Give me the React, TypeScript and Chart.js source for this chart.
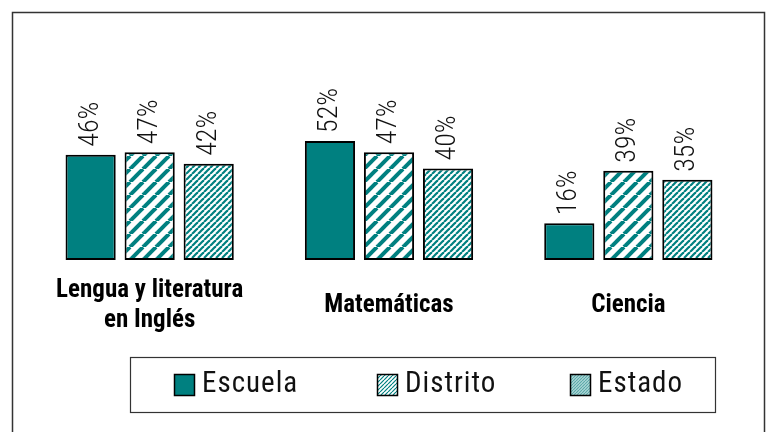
import React, { useEffect, useRef } from "react";
import { Chart, registerables } from "chart.js";

Chart.register(...registerables);

const categories: (string | string[])[] = [["Lengua y literatura", "en Inglés"], "Matemáticas", "Ciencia"];
const seriesNames = ["Escuela", "Distrito", "Estado"];
const escuela = [46, 52, 16];
const distrito = [47, 47, 39];
const estado = [42, 40, 35];

const TEAL = "#008080";
const NARROW = "'Roboto Condensed', 'Open Sans Condensed', 'Liberation Sans', Arial, sans-serif";

function stripePattern(period: number, lineW: number, bg: string, fg: string): CanvasPattern | string {
  const c = document.createElement("canvas");
  c.width = period;
  c.height = period;
  const g = c.getContext("2d");
  if (!g) return fg;
  g.fillStyle = bg;
  g.fillRect(0, 0, period, period);
  g.strokeStyle = fg;
  g.lineWidth = lineW;
  for (let k = -1; k <= 1; k++) {
    g.beginPath();
    g.moveTo(k * period, period);
    g.lineTo(k * period + period, 0);
    g.stroke();
  }
  const p = g.createPattern(c, "repeat");
  return p || fg;
}

export default function App() {
  const ref = useRef<HTMLCanvasElement | null>(null);

  useEffect(() => {
    const canvas = ref.current;
    if (!canvas) return;

    const distritoFill = stripePattern(13, 4, "#ffffff", TEAL);
    const estadoFill = stripePattern(6, 2.2, "#ffffff", TEAL);
    const distritoLegend = stripePattern(4, 1.2, "#ffffff", TEAL);
    const estadoLegend = stripePattern(3, 1.2, "#b8dcdc", "#5aa9a9");
    const legendFills = [TEAL, distritoLegend, estadoLegend];

    const framePlugin = {
      id: "frameAndLabels",
      beforeDraw(chart: any) {
        const ctx = chart.ctx;
        ctx.save();
        ctx.fillStyle = "#ffffff";
        ctx.fillRect(0, 0, chart.width, chart.height);
        ctx.restore();
      },
      afterDatasetsDraw(chart: any) {
        const ctx = chart.ctx;
        ctx.save();
        ctx.font = `300 28px ${NARROW}`;
        ctx.fillStyle = "#111";
        ctx.textAlign = "left";
        ctx.textBaseline = "middle";
        chart.data.datasets.forEach((ds: any, di: number) => {
          const meta = chart.getDatasetMeta(di);
          meta.data.forEach((el: any, i: number) => {
            ctx.save();
            ctx.translate(el.x, el.y - 8);
            ctx.rotate(-Math.PI / 2);
            ctx.fillText(`${ds.data[i]}%`, 0, 0);
            ctx.restore();
          });
        });
        ctx.restore();
      },
      afterDraw(chart: any) {
        const ctx = chart.ctx;
        ctx.save();
        // outer frame
        ctx.strokeStyle = "#333";
        ctx.lineWidth = 1.5;
        ctx.strokeRect(12.5, 12.5, 752, 440);
        // legend frame
        ctx.lineWidth = 1.2;
        ctx.strokeRect(130.5, 357.5, 585, 55);
        // legend entries
        const itemX = [174, 377, 570];
        ctx.font = `29px ${NARROW}`;
        ctx.textBaseline = "middle";
        ctx.textAlign = "left";
        (ctx as any).letterSpacing = "1px";
        chart.data.datasets.forEach((ds: any, i: number) => {
          const x = itemX[i];
          ctx.fillStyle = legendFills[i];
          ctx.fillRect(x, 374, 20, 21);
          ctx.strokeStyle = "#000";
          ctx.lineWidth = 1.5;
          ctx.strokeRect(x + 0.5, 374.5, 20, 21);
          ctx.fillStyle = "#111";
          ctx.fillText(ds.label, x + 28, 385);
        });
        ctx.restore();
      },
    };

    const chart = new Chart(canvas, {
      type: "bar",
      data: {
        labels: categories,
        datasets: [
          { label: seriesNames[0], data: escuela, backgroundColor: TEAL },
          { label: seriesNames[1], data: distrito, backgroundColor: distritoFill as any },
          { label: seriesNames[2], data: estado, backgroundColor: estadoFill as any },
        ].map((d) => ({
          ...d,
          borderColor: "#000",
          borderWidth: 2,
          borderSkipped: false,
          categoryPercentage: 0.74,
          barPercentage: 0.85,
        })),
      },
      options: {
        responsive: false,
        animation: false,
        layout: { padding: { left: 30, right: 20, top: 31, bottom: 50 } },
        plugins: {
          legend: { display: false },
          tooltip: { enabled: false },
        },
        scales: {
          x: {
            grid: { display: false, drawTicks: false },
            border: { display: false },
            ticks: {
              color: "#000",
              padding: 31,
              crossAlign: "center",
              maxRotation: 0,
              autoSkip: false,
              font: { family: NARROW, size: 25, weight: "bold", lineHeight: 1.2 },
            },
          },
          y: { display: false, min: 0, max: 100 },
        },
      },
      plugins: [framePlugin],
    });

    return () => chart.destroy();
  }, []);

  return (
    <div style={{ position: "fixed", left: 0, top: 0, width: 768, height: 432, background: "#fff" }}>
      <canvas ref={ref} width={768} height={432} style={{ display: "block" }} />
    </div>
  );
}
